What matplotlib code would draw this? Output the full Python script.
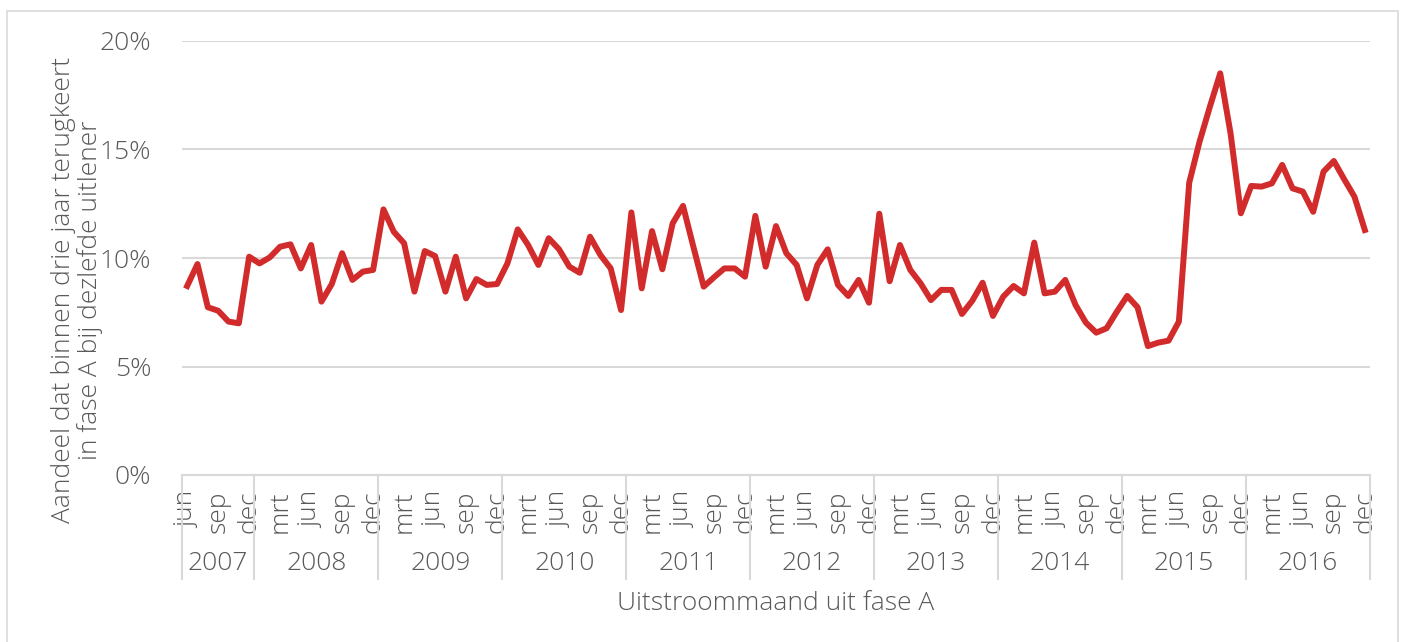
import matplotlib
matplotlib.use('Agg')
import matplotlib.pyplot as plt
import matplotlib.patches as patches
import matplotlib.transforms as mtransforms
import numpy as np

# monthly share (%), jun 2007 .. dec 2016
years = ['2007', '2008', '2009', '2010', '2011', '2012', '2013', '2014', '2015', '2016']
months_per_year = [7, 12, 12, 12, 12, 12, 12, 12, 12, 12]
month_names = ['jan', 'feb', 'mrt', 'apr', 'mei', 'jun', 'jul', 'aug', 'sep', 'okt', 'nov', 'dec']
first_month = 5  # jun

share_2007 = [8.71, 9.72, 7.73, 7.57, 7.07, 6.99, 10.06]
share_2008 = [9.75, 10.03, 10.52, 10.63, 9.52, 10.60, 7.99, 8.80, 10.22, 8.99, 9.37, 9.45]
share_2009 = [12.24, 11.21, 10.68, 8.45, 10.32, 10.09, 8.45, 10.06, 8.14, 9.03, 8.76, 8.80]
share_2010 = [9.75, 11.32, 10.60, 9.68, 10.91, 10.40, 9.60, 9.32, 10.98, 10.14, 9.52, 7.60]
share_2011 = [12.10, 8.60, 11.24, 9.48, 11.60, 12.40, 10.52, 8.68, 9.11, 9.52, 9.52, 9.14]
share_2012 = [11.94, 9.60, 11.47, 10.22, 9.68, 8.14, 9.68, 10.40, 8.76, 8.25, 8.99, 7.94]
share_2013 = [12.04, 8.93, 10.60, 9.45, 8.83, 8.06, 8.53, 8.53, 7.42, 8.03, 8.86, 7.33]
share_2014 = [8.22, 8.71, 8.37, 10.71, 8.37, 8.45, 8.99, 7.83, 7.02, 6.56, 6.76, 7.53]
share_2015 = [8.25, 7.73, 5.94, 6.10, 6.19, 7.07, 13.47, 15.36, 16.97, 18.51, 15.75, 12.06]
share_2016 = [13.32, 13.29, 13.44, 14.29, 13.21, 13.06, 12.13, 13.98, 14.47, 13.63, 12.82, 11.29]

values = np.array(share_2007 + share_2008 + share_2009 + share_2010 + share_2011 +
                  share_2012 + share_2013 + share_2014 + share_2015 + share_2016) / 100

GREY = '#595959'
GRID = '#D9D9D9'
RED = '#D22B2B'
FS = 19

plt.rcParams['font.family'] = ['Open Sans', 'DejaVu Sans']
plt.rcParams['font.weight'] = 'light'

fig = plt.figure(figsize=(14.03, 6.42), dpi=100)
ax = fig.add_axes([182 / 1403, 167 / 642, 1188 / 1403, 434 / 642])

x = np.arange(len(values))
ax.plot(x, values, color=RED, linewidth=4.3, solid_joinstyle='round', zorder=3)

ax.set_xlim(-0.5, len(values) - 0.5)
ax.set_ylim(0, 0.20)
ax.set_yticks(np.arange(0, 0.201, 0.05))
ax.set_yticklabels([f'{int(round(v * 100))}%' for v in np.arange(0, 0.201, 0.05)])
ax.yaxis.grid(True, color=GRID, linewidth=1.5)
ax.set_axisbelow(True)
for s in ['top', 'right', 'left']:
    ax.spines[s].set_visible(False)
ax.spines['bottom'].set_color(GRID)
ax.spines['bottom'].set_linewidth(1.5)
ax.tick_params(axis='y', length=0, pad=22, labelsize=FS, labelcolor=GREY)

# month tick labels every 3 months
labels = []
for i in range(len(values)):
    labels.append(month_names[(first_month + i) % 12])
ticks = list(range(0, len(values), 3))
ax.set_xticks(ticks)
ax.set_xticklabels([labels[t] for t in ticks], rotation=90, va='top', ha='center')
ax.tick_params(axis='x', length=0, pad=11, labelsize=FS, labelcolor=GREY)

# year groups below the month labels
trans = mtransforms.blended_transform_factory(ax.transData, ax.transAxes)
bounds = np.concatenate([[0], np.cumsum(months_per_year)]) - 0.5
for b in bounds:
    ax.plot([b, b], [0, -0.2396], transform=trans, color=GRID, linewidth=1.5,
            clip_on=False)
for yr, lo, hi in zip(years, bounds[:-1], bounds[1:]):
    ax.text((lo + hi) / 2, -0.205, yr, transform=trans, ha='center', va='center',
            fontsize=FS, color=GREY)

fig.text(776 / 1403, 1 - 603 / 642, 'Uitstroommaand uit fase A', ha='center',
         va='center', fontsize=FS, color=GREY)
fig.text(77 / 1403, 1 - 290 / 642,
         'Aandeel dat binnen drie jaar terugkeert\nin fase A bij dezlefde uitlener',
         ha='center', va='center', rotation=90, fontsize=FS, color=GREY,
         linespacing=1.1)

# light frame around the chart
frame = patches.Rectangle((7 / 1403, -0.05), 1391 / 1403, 1.05 - 11 / 642,
                          transform=fig.transFigure, fill=False,
                          edgecolor=GRID, linewidth=1.2)
fig.patches.append(frame)

fig.savefig('out.png', dpi=100)
